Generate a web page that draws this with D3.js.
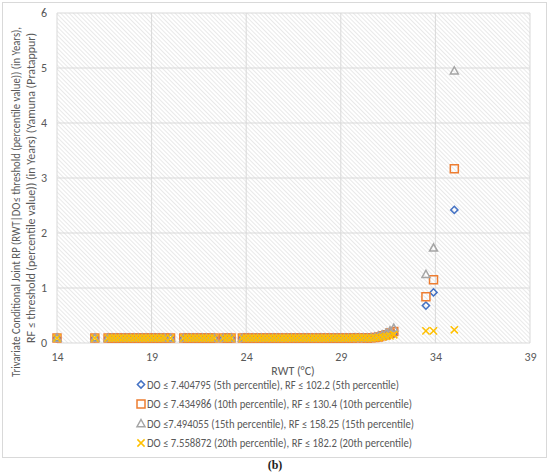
<!DOCTYPE html>
<html>
<head>
<meta charset="utf-8">
<script src="https://cdn.jsdelivr.net/npm/d3@7/dist/d3.min.js"></script>
<style>
  html, body { margin: 0; padding: 0; background: #fff; }
  svg { display: block; font-family: Carlito, Lato, "Open Sans", sans-serif; }
</style>
</head>
<body>
<svg id="chart" width="550" height="472"></svg>
<script>
// ---- Data ----
const xTicks = [14, 19, 24, 29, 34, 39];
const yTicks = [0, 1, 2, 3, 4, 5, 6];

// RWT values of the dense low-RP band (shared by all series)
const bandRWT = [14.0, 16.0, 16.7, 16.9, 17.1, 17.3, 17.5, 17.7, 17.9, 18.1, 18.3, 18.5, 18.7, 18.9,
  19.1, 19.3, 19.5, 19.7, 20.0, 20.7, 20.9, 21.1, 21.3, 21.5, 21.7, 21.9, 22.1, 22.3, 22.8, 23.0, 23.2,
  23.8, 24.0, 24.2, 24.4, 24.6, 24.8, 25.0, 25.2, 25.4, 25.6, 25.8, 26.0, 26.2, 26.4, 26.6, 26.8, 27.0,
  27.2, 27.4, 27.6, 27.8, 28.0, 28.2, 28.4, 28.6, 28.8, 29.0, 29.2, 29.4, 29.6, 29.8, 30.0, 30.2];
const bandRP = [0.09, 0.09, 0.09, 0.09, 0.09, 0.09, 0.09, 0.09, 0.09, 0.09, 0.09, 0.09, 0.09, 0.09,
  0.09, 0.09, 0.09, 0.09, 0.09, 0.09, 0.09, 0.09, 0.09, 0.09, 0.09, 0.09, 0.09, 0.09, 0.09, 0.09, 0.09,
  0.09, 0.09, 0.09, 0.09, 0.09, 0.09, 0.09, 0.09, 0.09, 0.09, 0.09, 0.09, 0.09, 0.09, 0.09, 0.09, 0.09,
  0.09, 0.09, 0.09, 0.09, 0.09, 0.09, 0.09, 0.09, 0.09, 0.09, 0.09, 0.09, 0.09, 0.095, 0.095, 0.095];

// Rising tail and extreme values, per series
const tailRWT = [30.4, 30.6, 30.8, 31.0, 31.2, 31.4, 31.6, 31.8, 33.5, 33.9, 35.0];
const rpDO5  = [0.09, 0.09, 0.10, 0.105, 0.12, 0.13, 0.15, 0.17, 0.68, 0.92, 2.42];
const rpDO10 = [0.09, 0.095, 0.10, 0.11, 0.13, 0.15, 0.18, 0.21, 0.84, 1.15, 3.17];
const rpDO15 = [0.09, 0.10, 0.11, 0.13, 0.15, 0.18, 0.22, 0.27, 1.25, 1.73, 4.95];
const rpDO20 = [0.09, 0.09, 0.095, 0.10, 0.11, 0.12, 0.13, 0.15, 0.22, 0.22, 0.24];

const seriesNames = [
  "DO \u2264 7.404795 (5th percentile), RF \u2264 102.2 (5th percentile)",
  "DO \u2264 7.434986 (10th percentile), RF \u2264 130.4 (10th percentile)",
  "DO \u22647.494055 (15th percentile), RF \u2264 158.25 (15th percentile)",
  "DO \u2264 7.558872 (20th percentile), RF \u2264 182.2 (20th percentile)"
];
const seriesTail = [rpDO5, rpDO10, rpDO15, rpDO20];
const seriesColors = ["#4472C4", "#ED7D31", "#A5A5A5", "#FFC000"];
const seriesShapes = ["diamond", "square", "triangle", "cross"];

const xTitle = "RWT (\u00B0C)";
const yTitle1 = "Trivariate Conditional Joint RP (RWT|DO\u2264 threshold (percentile value)) (in Years),";
const yTitle2 = "RF \u2264 threshold (percentile value)) (in Years) (Yamuna (Pratappur)";
const caption = "(b)";

// ---- Layout ----
const svg = d3.select("#chart");
const plot = { left: 57, right: 530, top: 13, bottom: 343 };
const x = d3.scaleLinear().domain([14, 39]).range([plot.left, plot.right]);
const y = d3.scaleLinear().domain([0, 6]).range([plot.bottom, plot.top]);

// Chart border
svg.append("rect").attr("x", 2.5).attr("y", 2.5).attr("width", 544).attr("height", 455)
  .attr("fill", "#fff").attr("stroke", "#d9d9d9").attr("stroke-width", 1);

// Hatch pattern
const defs = svg.append("defs");
const pat = defs.append("pattern").attr("id", "hatch").attr("patternUnits", "userSpaceOnUse")
  .attr("width", 3).attr("height", 3).attr("patternTransform", "rotate(-45)");
pat.append("rect").attr("width", 3).attr("height", 3).attr("fill", "#fff");
pat.append("line").attr("x1", 0).attr("y1", 0).attr("x2", 0).attr("y2", 3)
  .attr("stroke", "#dedede").attr("stroke-width", 1.3);

svg.append("rect").attr("x", plot.left).attr("y", plot.top)
  .attr("width", plot.right - plot.left).attr("height", plot.bottom - plot.top)
  .attr("fill", "url(#hatch)");

// Gridlines
const grid = svg.append("g");
grid.selectAll("line.h").data(yTicks).join("line").attr("class", "h")
  .attr("x1", plot.left).attr("x2", plot.right)
  .attr("y1", d => y(d)).attr("y2", d => y(d))
  .attr("stroke", "#d9d9d9").attr("stroke-width", 1);
grid.selectAll("line.v").data(xTicks).join("line").attr("class", "v")
  .attr("y1", plot.top).attr("y2", plot.bottom)
  .attr("x1", d => x(d)).attr("x2", d => x(d))
  .attr("stroke", "#d9d9d9").attr("stroke-width", 1);

// Axes (labels only)
const xAxis = svg.append("g").attr("transform", `translate(0,${plot.bottom})`)
  .call(d3.axisBottom(x).tickValues(xTicks).tickSize(0).tickPadding(9).tickFormat(d3.format("d")));
const yAxis = svg.append("g").attr("transform", `translate(${plot.left},0)`)
  .call(d3.axisLeft(y).tickValues(yTicks).tickSize(0).tickPadding(10).tickFormat(d3.format("d")));
[xAxis, yAxis].forEach(a => {
  a.select(".domain").remove();
  a.selectAll("text").attr("fill", "#595959").attr("font-size", 12)
    .style("font-family", "Carlito, Lato, sans-serif");
});

// Marker shapes
function markerPath(shape, s) {
  if (shape === "diamond") return `M0,${-s}L${s},0L0,${s}L${-s},0Z`;
  if (shape === "square") return `M${-s},${-s}H${s}V${s}H${-s}Z`;
  if (shape === "triangle") return `M0,${-s}L${s},${s * 0.8}H${-s}Z`;
  return `M${-s},${-s}L${s},${s}M${s},${-s}L${-s},${s}`;
}
const markerSize = [3.6, 4, 4, 3.6];

// Points
seriesNames.forEach((name, i) => {
  const pts = bandRWT.map((r, j) => ({ x: r, y: bandRP[j] }))
    .concat(tailRWT.map((r, j) => ({ x: r, y: seriesTail[i][j] })));
  svg.append("g").selectAll("path").data(pts).join("path")
    .attr("transform", d => `translate(${x(d.x)},${y(d.y)})`)
    .attr("d", markerPath(seriesShapes[i], markerSize[i]))
    .attr("fill", "none").attr("stroke", seriesColors[i]).attr("stroke-width", 1.5);
});

// Axis titles
svg.append("text").attr("x", 293).attr("y", 375).attr("text-anchor", "middle")
  .attr("font-size", 12).attr("fill", "#595959").text(xTitle);
const yt = svg.append("g").attr("transform", "rotate(-90)");
yt.append("text").attr("x", -202).attr("y", 19.5).attr("text-anchor", "middle")
  .attr("font-size", 11.5).attr("fill", "#595959")
  .attr("textLength", 350).attr("lengthAdjust", "spacingAndGlyphs").text(yTitle1);
yt.append("text").attr("x", -188).attr("y", 35).attr("text-anchor", "middle")
  .attr("font-size", 11.5).attr("fill", "#595959")
  .attr("textLength", 310).attr("lengthAdjust", "spacingAndGlyphs").text(yTitle2);

// Legend
const legendY = [384.5, 404, 423.5, 443];
const legendW = [252, 265, 267, 265];
const lg = svg.append("g");
seriesNames.forEach((name, i) => {
  lg.append("path").attr("transform", `translate(141,${legendY[i]})`)
    .attr("d", markerPath(seriesShapes[i], markerSize[i]))
    .attr("fill", "none").attr("stroke", seriesColors[i]).attr("stroke-width", 1.5);
  lg.append("text").attr("x", 147).attr("y", legendY[i] + 4)
    .attr("font-size", 11.5).attr("fill", "#595959")
    .attr("textLength", legendW[i]).attr("lengthAdjust", "spacingAndGlyphs").text(name);
});

// Caption
svg.append("text").attr("x", 275).attr("y", 469).attr("text-anchor", "middle")
  .attr("font-size", 12).attr("font-weight", "bold").attr("fill", "#222")
  .style("font-family", "'Liberation Serif', serif").text(caption);
</script>
</body>
</html>
